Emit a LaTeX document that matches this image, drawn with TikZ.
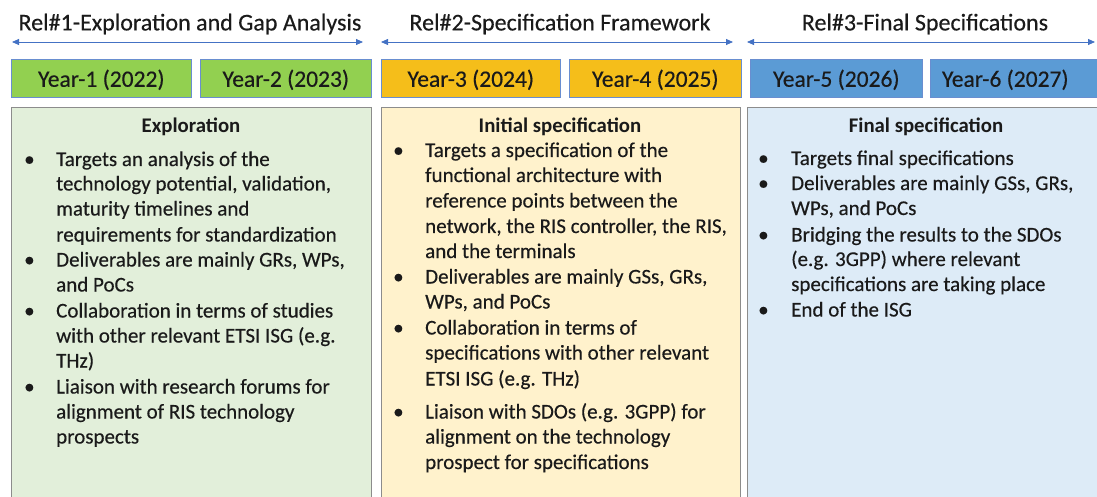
\documentclass[tikz,border=0pt]{standalone}
\usepackage{fontspec}
\setmainfont{Carlito}[UprightFeatures={FakeBold=0.35}]
\usetikzlibrary{arrows.meta}
\definecolor{txtc}{HTML}{1A1A1A}
\definecolor{arrc}{HTML}{4472C4}
\definecolor{yg}{HTML}{92D050}
\definecolor{yo}{HTML}{F5BE1A}
\definecolor{yb}{HTML}{5B9BD5}
\definecolor{lg}{HTML}{E2EFDA}
\definecolor{ly}{HTML}{FFF2CC}
\definecolor{lb}{HTML}{DDEBF7}
\definecolor{bord}{HTML}{8C8C8C}
\begin{document}
\begin{tikzpicture}[x=1pt,y=-1pt,
  every node/.style={text=txtc,font=\fontsize{21}{25}\selectfont,inner sep=0pt},
  hd/.style={font=\fontsize{24}{28}\selectfont},
  yr/.style={font=\fontsize{23.5}{28}\selectfont,yshift=-1.5pt},
  relarrow/.style={draw=arrc,line width=0.8pt,{Triangle[length=7pt,width=6pt]}-{Triangle[length=7pt,width=6pt]}},
  yearbox/.style={draw=arrc!80,line width=0.6pt,minimum height=38pt,anchor=north west},
  bigbox/.style={draw=bord,line width=1pt,anchor=north west,minimum height=420pt},
  tline/.style={anchor=base west},
  bul/.style={anchor=base west},
  ttl/.style={anchor=base,font=\bfseries\fontsize{20.8}{25}\selectfont}]
\useasboundingbox (0,0) rectangle (1097,497);
% headings
\node[hd] (h1) at (190,24) {Rel\#1-Exploration and Gap Analysis};
\node[hd] (h2) at (560,24) {Rel\#2-Specification Framework};
\node[hd] (h3) at (925,24) {Rel\#3-Final Specifications};
\coordinate (a1l) at (12,42); \coordinate (a1r) at (363,42);
\coordinate (a2l) at (381,42); \coordinate (a2r) at (733,42);
\coordinate (a3l) at (747,42); \coordinate (a3r) at (1095,42);
\draw[relarrow] (a1l) -- (a1r);
\draw[relarrow] (a2l) -- (a2r);
\draw[relarrow] (a3l) -- (a3r);
% year boxes
\node[yearbox,fill=yg,minimum width=180pt] (y1) at (11,59) {};
\node[yr] (yt1) at (y1.center) {Year-1 (2022)};
\node[yearbox,fill=yg,minimum width=171pt] (y2) at (200,59) {};
\node[yr] (yt2) at (y2.center) {Year-2 (2023)};
\node[yearbox,fill=yo,minimum width=179pt] (y3) at (381,59) {};
\node[yr] (yt3) at (y3.center) {Year-3 (2024)};
\node[yearbox,fill=yo,minimum width=172pt] (y4) at (569,59) {};
\node[yr] (yt4) at (y4.center) {Year-4 (2025)};
\node[yearbox,fill=yb,minimum width=172pt] (y5) at (750,59) {};
\node[yr] (yt5) at (y5.center) {Year-5 (2026)};
\node[yearbox,fill=yb,minimum width=180pt] (y6) at (930,59) {};
\node[yr] (yt6) at ([xshift=-15pt]y6.center) {Year-6 (2027)};
% big boxes
\node[bigbox,fill=lg,minimum width=360pt] (b1) at (11,107) {};
\node[bigbox,fill=ly,minimum width=359pt] (b2) at (381,107) {};
\node[bigbox,fill=lb,minimum width=360pt] (b3) at (747,107) {};
\begin{scope}[yshift=-2pt]
% box 1
\node[ttl] (t1) at (191,131) {Exploration};
\node[bul] (p11) at (24,164) {•};
\node[tline] (l11) at (56,164) {Targets an analysis of the};
\node[tline] (l12) at (56,188.5) {technology potential, validation,};
\node[tline] (l13) at (56,213.5) {maturity timelines and};
\node[tline] (l14) at (56,239.5) {requirements for standardization};
\node[bul] (p12) at (24,264.5) {•};
\node[tline] (l15) at (56,264.5) {Deliverables are mainly GRs, WPs,};
\node[tline] (l16) at (56,289.5) {and PoCs};
\node[bul] (p13) at (24,315.5) {•};
\node[tline] (l17) at (56,315.5) {Collaboration in terms of studies};
\node[tline] (l18) at (56,340.5) {with other relevant ETSI ISG (e.g.};
\node[tline] (l19) at (56,365.5) {THz)};
\node[bul] (p14) at (24,391.5) {•};
\node[tline] (l1a) at (56,391.5) {Liaison with research forums for};
\node[tline] (l1b) at (56,416.5) {alignment of RIS technology};
\node[tline] (l1c) at (56,441.5) {prospects};
% box 2
\node[ttl] (t2) at (560,131) {Initial specification};
\node[bul] (p21) at (393,155) {•};
\node[tline] (l21) at (425,155) {Targets a specification of the};
\node[tline] (l22) at (425,180) {functional architecture with};
\node[tline] (l23) at (425,205.5) {reference points between the};
\node[tline] (l24) at (425,231) {network, the RIS controller, the RIS,};
\node[tline] (l25) at (425,256) {and the terminals};
\node[bul] (p22) at (393,281.5) {•};
\node[tline] (l26) at (425,281.5) {Deliverables are mainly GSs, GRs,};
\node[tline] (l27) at (425,306.5) {WPs, and PoCs};
\node[bul] (p23) at (393,332.5) {•};
\node[tline] (l28) at (425,332.5) {Collaboration in terms of};
\node[tline] (l29) at (425,357.5) {specifications with other relevant};
\node[tline] (l2a) at (425,383.5) {ETSI ISG (e.g. THz)};
\node[bul] (p24) at (393,416.5) {•};
\node[tline] (l2b) at (425,416.5) {Liaison with SDOs (e.g. 3GPP) for};
\node[tline] (l2c) at (425,441.5) {alignment on the technology};
\node[tline] (l2d) at (425,467) {prospect for specifications};
% box 3
\node[ttl] (t3) at (926,131) {Final specification};
\node[bul] (p31) at (758,163) {•};
\node[tline] (l31) at (791,163) {Targets final specifications};
\node[bul] (p32) at (758,188) {•};
\node[tline] (l32) at (791,188) {Deliverables are mainly GSs, GRs,};
\node[tline] (l33) at (791,213) {WPs, and PoCs};
\node[bul] (p33) at (758,239.5) {•};
\node[tline] (l34) at (791,239.5) {Bridging the results to the SDOs};
\node[tline] (l35) at (791,264) {(e.g. 3GPP) where relevant};
\node[tline] (l36) at (791,289) {specifications are taking place};
\node[bul] (p34) at (758,314.5) {•};
\node[tline] (l37) at (791,314.5) {End of the ISG};
\end{scope}
\end{tikzpicture}
\end{document}
